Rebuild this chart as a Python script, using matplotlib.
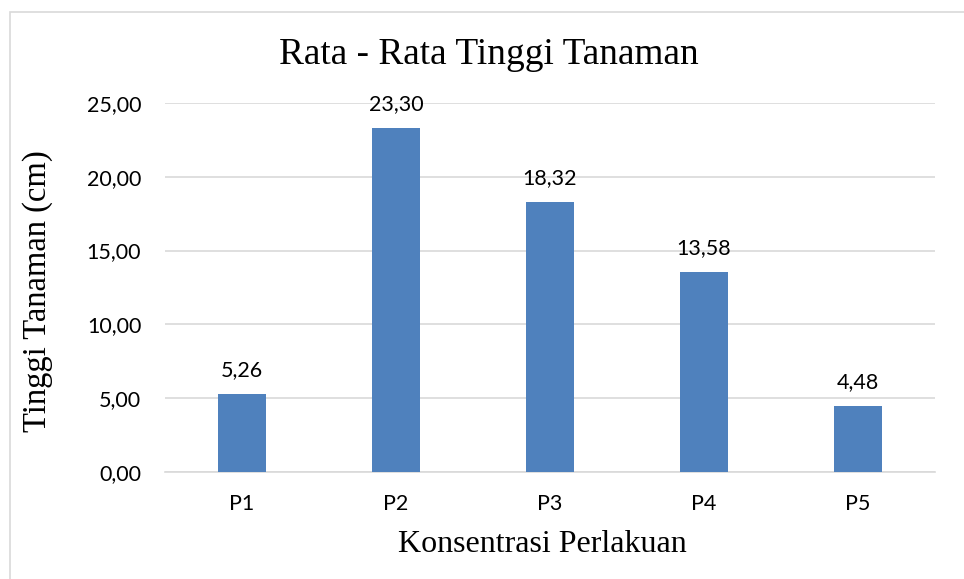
import numpy as np
import matplotlib.pyplot as plt
from matplotlib.patches import Rectangle

# data
perlakuan = ["P1", "P2", "P3", "P4", "P5"]
tinggi = [5.26, 23.30, 18.32, 13.58, 4.48]
yticks = [0, 5, 10, 15, 20, 25]

W, H = 964, 579
fig = plt.figure(figsize=(W / 100, H / 100), dpi=100)
ax = fig.add_axes([0.171, 0.185, 0.799, 0.637])

# frame of the chart area (only left/top are visible in reference)
fig.patches.append(Rectangle((10 / W, -0.1), 1.2, (H - 12) / H + 0.1,
                             transform=fig.transFigure, fill=False,
                             edgecolor="#d9d9d9", linewidth=1.2))

x = np.arange(len(perlakuan))
bars = ax.bar(x, tinggi, width=0.31, color="#4f81bd", zorder=3)

tick_font = "Lato"
fs = 15.5
for b, v in zip(bars, tinggi):
    ax.annotate(f"{v:.2f}".replace(".", ","), (b.get_x() + b.get_width() / 2, v),
                xytext=(0, 10), textcoords="offset points",
                ha="center", va="bottom", fontsize=fs, family=tick_font)

ax.set_xlim(-0.5, len(perlakuan) - 0.5)
ax.set_ylim(0, 25)
ax.set_yticks(yticks)
ax.set_yticklabels([f"{v:.2f}".replace(".", ",") for v in yticks],
                   fontsize=fs, family=tick_font)
ax.set_xticks(x)
ax.set_xticklabels(perlakuan, fontsize=fs, family=tick_font)
ax.tick_params(axis="y", length=0, pad=17)
ax.tick_params(axis="x", length=0, pad=16)

ax.grid(axis="y", color="#d9d9d9", linewidth=1.2, zorder=0)
for s in ["top", "right", "left"]:
    ax.spines[s].set_visible(False)
ax.spines["bottom"].set_color("#d9d9d9")
ax.spines["bottom"].set_linewidth(1.2)

fig.text(489 / W, 1 - 55 / H, "Rata - Rata Tinggi Tanaman", ha="center", va="center",
         fontsize=26.8, family="Liberation Serif")
fig.text(542 / W, 1 - 545 / H, "Konsentrasi Perlakuan", ha="center", va="center",
         fontsize=23, family="Liberation Serif")
fig.text(38 / W, 1 - 291 / H, "Tinggi Tanaman (cm)", ha="center", va="center",
         rotation=90, fontsize=23.5, family="Liberation Serif")

fig.savefig("out.png", dpi=100)
